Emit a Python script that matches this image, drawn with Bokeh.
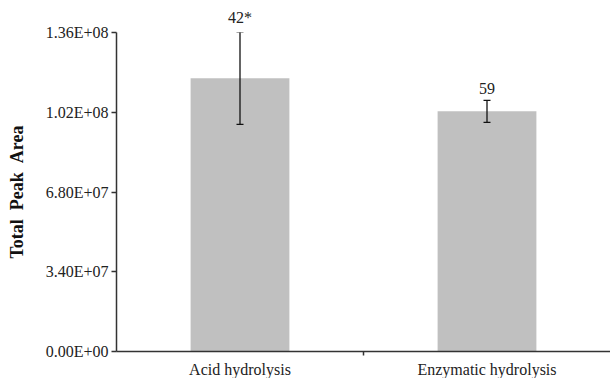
from bokeh.plotting import figure
from bokeh.models import ColumnDataSource, FixedTicker, Whisker, TeeHead, Range1d
from bokeh.core.properties import value
from bokeh.embed import file_html
from bokeh.resources import INLINE

categories = ["Acid hydrolysis", "Enzymatic hydrolysis"]
means = [1.165e8, 1.024e8]
errors = [0.197e8, 0.047e8]
bar_labels = ["42*", "59"]
y_ticks = [0, 3.4e7, 6.8e7, 1.02e8, 1.36e8]
y_tick_labels = ["0.00E+00", "3.40E+07", "6.80E+07", "1.02E+08", "1.36E+08"]

xs = [i + 0.5 for i in range(len(categories))]
src = ColumnDataSource(dict(
    x=xs, top=means,
    upper=[m + e for m, e in zip(means, errors)],
    lower=[m - e for m, e in zip(means, errors)],
    label=bar_labels,
))

FONT = "Liberation Serif"

p = figure(frame_width=494, frame_height=319, output_backend="svg", toolbar_location=None,
           x_range=Range1d(0, len(categories)), y_range=Range1d(0, y_ticks[-1]),
           min_border_left=116, min_border_right=0, min_border_top=32, min_border_bottom=27)
p.outline_line_color = None
p.xgrid.grid_line_color = None
p.ygrid.grid_line_color = None

p.vbar(x="x", top="top", width=0.4, source=src, fill_color="#C0C0C0", line_color=None)

p.add_layout(Whisker(source=src, base="x", upper="upper", lower="lower", level="overlay",
                     line_color="#111111", line_width=1.3,
                     upper_head=TeeHead(size=7, line_color="#111111", line_width=1.3),
                     lower_head=TeeHead(size=7, line_color="#111111", line_width=1.3)))

p.text(x="x", y="upper", text="label", source=src, y_offset=-6, level="overlay",
       text_align="center", text_baseline="bottom",
       text_font=value(FONT), text_font_size="16px", text_color="#222222")

# y axis
ya = p.yaxis[0]
ya.ticker = FixedTicker(ticks=y_ticks)
ya.major_label_overrides = {t: l for t, l in zip(y_ticks, y_tick_labels)}
ya.axis_label = "Total\u00a0\u00a0Peak\u00a0\u00a0Area"
ya.axis_label_text_font = FONT
ya.axis_label_text_font_style = "bold"
ya.axis_label_text_font_size = "18px"
ya.axis_label_text_color = "#111111"
ya.axis_label_standoff = 16
ya.major_label_text_font = FONT
ya.major_label_text_font_size = "16px"
ya.major_label_text_color = "#222222"
ya.major_label_standoff = 3
ya.major_tick_out = 5
ya.major_tick_in = 0
ya.minor_tick_line_color = None
ya.axis_line_color = "#333333"
ya.axis_line_width = 1.5
ya.major_tick_line_color = "#333333"
ya.major_tick_line_width = 1.3

# x axis
xa = p.xaxis[0]
xa.ticker = FixedTicker(ticks=xs, minor_ticks=[1])
xa.major_label_overrides = {x: c for x, c in zip(xs, categories)}
xa.major_label_text_font = FONT
xa.major_label_text_font_size = "16px"
xa.major_label_text_color = "#222222"
xa.major_label_standoff = 5
xa.major_tick_line_color = None
xa.major_tick_out = 0
xa.major_tick_in = 0
xa.minor_tick_out = 4
xa.minor_tick_in = 0
xa.minor_tick_line_color = "#333333"
xa.minor_tick_line_width = 1.5
xa.axis_line_color = "#333333"
xa.axis_line_width = 1.5

open("out.html", "w").write(file_html(p, INLINE))
